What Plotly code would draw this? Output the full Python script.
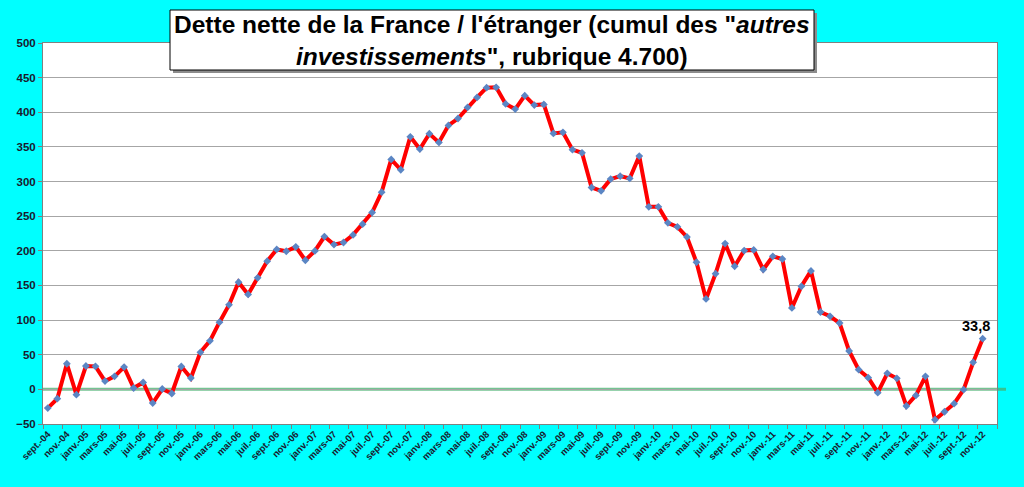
import plotly.graph_objects as go

# monthly values, sept. 2004 -> nov. 2012 (Md EUR)
MONTHS_FR = ["janv.", "févr.", "mars", "avr.", "mai", "juin",
             "juil.", "août", "sept.", "oct.", "nov.", "déc."]
START_YEAR = 2004
START_MONTH = 9  # septembre

debt = [
    -27, -13.5, 37, -7.7, 33.7, 33.2, 12, 18.8, 32.2, 2,
    10, -19.8, 0.5, -6, 33, 16.4, 53.5, 70, 97, 122,
    154.6, 137, 161, 185, 202, 199.4, 205.7, 186.4, 199.9, 220.6,
    209, 212, 223, 238.4, 255.3, 284.7, 332, 317, 364.6, 347,
    369, 356.5, 381, 391, 407, 421.5, 435.5, 436, 412, 404.6,
    424, 410.4, 411.4, 369.5, 371, 346, 341.5, 291.4, 286.6, 303.5,
    307.8, 304.5, 336.7, 263.5, 263.5, 240.4, 234.6, 220, 183.5, 130.5,
    167, 210.5, 177.7, 200.4, 201.3, 173, 192, 188.2, 117.5, 148.8,
    171, 111.7, 105.5, 95.8, 55.4, 28.4, 16.9, -4.8, 23.1, 15.9,
    -24, -8.7, 18.8, -43.9, -32.3, -20.7, -0.5, 39, 73.2,
]
last_label = "33,8"

month_labels = []
for k in range(len(debt) + 1):  # one empty category at the end (déc.-12)
    m = (START_MONTH - 1 + k) % 12
    y = START_YEAR + (START_MONTH - 1 + k) // 12
    month_labels.append(f"{MONTHS_FR[m]}-{y % 100:02d}")

tick_idx = list(range(0, len(debt), 2))
tick_text = [month_labels[i] for i in tick_idx]
x_idx = list(range(len(debt)))

title_html = ("<b>Dette nette de la France / l'étranger (cumul des \"<i>autres</i><br>"
              "<i>investissements</i>\", rubrique 4.700)</b>")

W, H = 1024, 487
L, R, T, B = 43, 27, 43, 63
FONT = "Liberation Sans, Arial, sans-serif"


def px_x(p):
    return (p - L) / (W - L - R)


def px_y(p):
    return (H - B - p) / (H - T - B)


fig = go.Figure()
fig.add_trace(go.Scatter(
    x=x_idx, y=debt, mode="lines+markers",
    line=dict(color="#ff0000", width=4),
    marker=dict(symbol="diamond", size=6, color="#5b86c4"),
    hoverinfo="skip", showlegend=False,
))

fig.add_annotation(
    x=x_idx[-1], y=debt[-1], text=f"<b>{last_label}</b>", showarrow=False,
    xshift=-7, yshift=3, yanchor="bottom",
    font=dict(family=FONT, size=14.5, color="#000000"),
)

# zero line
fig.add_shape(type="line", xref="paper", yref="y", x0=0, x1=px_x(1006), y0=0, y1=0,
              line=dict(color="rgba(70,175,110,0.75)", width=3), layer="below")

# title box with shadow
fig.add_shape(type="rect", xref="paper", yref="paper",
              x0=px_x(173), x1=px_x(817), y0=px_y(73), y1=px_y(13),
              fillcolor="#8c8c8c", line=dict(width=0), layer="above")
fig.add_shape(type="rect", xref="paper", yref="paper",
              x0=px_x(170), x1=px_x(814), y0=px_y(70), y1=px_y(10),
              fillcolor="#ffffff", line=dict(color="#000000", width=1), layer="above")
fig.add_annotation(
    xref="paper", yref="paper", x=px_x(492), y=px_y(40),
    xanchor="center", yanchor="middle", showarrow=False, text=title_html,
    font=dict(family=FONT, size=24.5, color="#000000"),
)

fig.update_layout(
    width=W, height=H,
    margin=dict(l=L, r=R, t=T, b=B, autoexpand=False),
    paper_bgcolor="#00ffff", plot_bgcolor="#ffffff",
    font=dict(family=FONT, color="#1a1a2e"),
    xaxis=dict(
        range=[-0.5, len(debt) + 0.5], automargin=False,
        tickmode="array", tickvals=tick_idx, ticktext=tick_text,
        tickangle=-45, ticks="", showgrid=False,
        tickfont=dict(family=FONT, size=9.5, color="#1a1a2e", weight="bold"),
        showline=True, linecolor="#808080", linewidth=1, mirror=True,
        minor=dict(tick0=-0.5, dtick=2, ticks="outside", ticklen=4,
                   tickcolor="#808080", showgrid=False),
        zeroline=False,
    ),
    yaxis=dict(
        range=[-50, 500], dtick=50, tick0=0, automargin=False,
        ticks="outside", ticklen=4, tickcolor="#808080",
        showgrid=True, gridcolor="#a6a6a6", gridwidth=1,
        showline=True, linecolor="#808080", linewidth=1, mirror=True,
        tickfont=dict(family=FONT, size=11.5, color="#1a1a2e", weight="bold"),
        zeroline=False,
    ),
)

# page body has a default 8px margin; drop it so the figure fills the window
fig.write_html("out.html",
               config={"displayModeBar": False},
               post_script="document.body.style.margin='0';"
                           "document.body.style.overflow='hidden';")
